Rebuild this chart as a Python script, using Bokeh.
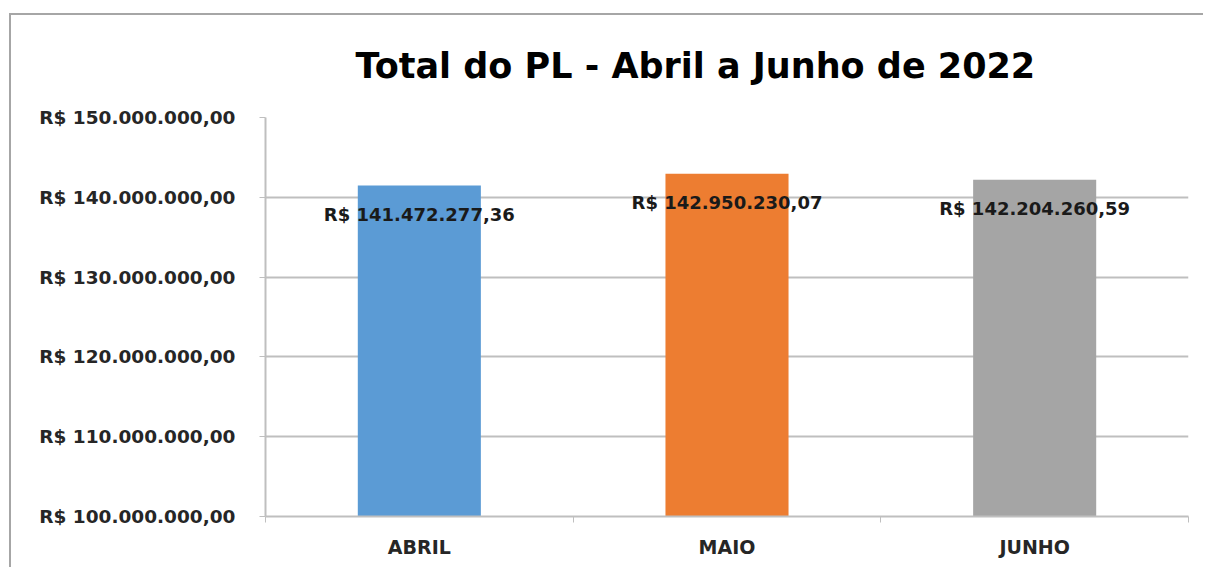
from bokeh.plotting import figure
from bokeh.models import ColumnDataSource, FixedTicker, Range1d
from bokeh.core.properties import value
from bokeh.embed import file_html
from bokeh.resources import INLINE

# Data
categories = ["ABRIL", "MAIO", "JUNHO"]
values = [141472277.36, 142950230.07, 142204260.59]
value_labels = ["R$ 141.472.277,36", "R$ 142.950.230,07", "R$ 142.204.260,59"]
colors = ["#5b9bd5", "#ed7d31", "#a5a5a5"]
y_ticks = [100000000, 110000000, 120000000, 130000000, 140000000, 150000000]
y_tick_labels = ["R$ 100.000.000,00", "R$ 110.000.000,00", "R$ 120.000.000,00",
                 "R$ 130.000.000,00", "R$ 140.000.000,00", "R$ 150.000.000,00"]
title_text = "Total do PL - Abril a Junho de 2022"

FONT = "DejaVu Sans"
x_pos = [i + 0.5 for i in range(len(categories))]

src = ColumnDataSource(dict(x=x_pos, top=values, color=colors, lab=value_labels))

p = figure(width=1194, height=554, output_backend="svg", toolbar_location=None,
           x_range=Range1d(0, 3), y_range=Range1d(100000000, 150000000),
           min_border_left=254, min_border_right=17, min_border_top=102, min_border_bottom=53)
p.styles = {"margin-left": "9px", "margin-top": "13px",
            "border-left": "2px solid #a6a6a6", "border-top": "2px solid #a6a6a6"}

p.title.text = title_text
p.title.align = "left"
p.title.offset = 90
p.title.vertical_align = "top"
p.title.text_font = FONT
p.title.text_font_size = "35px"
p.title.text_font_style = "bold"
p.title.text_color = "#000000"
p.title.standoff = 60

p.vbar(x="x", top="top", bottom=100000000, width=0.4, fill_color="color",
       line_color=None, source=src)
p.text(x="x", y="top", text="lab", source=src, text_align="center",
       text_baseline="middle", y_offset=29, text_font=value(FONT),
       text_font_size="18px", text_font_style="bold", text_color="#1a1a1a")

p.outline_line_color = None
p.xgrid.grid_line_color = None
p.ygrid.grid_line_color = "#bfbfbf"
p.ygrid.grid_line_width = 2
p.ygrid.ticker = FixedTicker(ticks=y_ticks)

p.yaxis.ticker = FixedTicker(ticks=y_ticks)
p.yaxis.major_label_overrides = {t: l for t, l in zip(y_ticks, y_tick_labels)}
p.yaxis.axis_line_color = "#bfbfbf"
p.yaxis.axis_line_width = 2
p.yaxis.major_tick_line_color = "#bfbfbf"
p.yaxis.major_tick_out = 6
p.yaxis.major_tick_in = 0
p.yaxis.minor_tick_line_color = None
p.yaxis.major_label_text_font = FONT
p.yaxis.major_label_text_font_size = "18.5px"
p.yaxis.major_label_text_font_style = "bold"
p.yaxis.major_label_text_color = "#262626"
p.yaxis.major_label_standoff = 24

p.xaxis.ticker = FixedTicker(ticks=x_pos, minor_ticks=[0, 1, 2, 3])
p.xaxis.major_label_overrides = {x: c for x, c in zip(x_pos, categories)}
p.xaxis.axis_line_color = "#bfbfbf"
p.xaxis.axis_line_width = 2
p.xaxis.major_tick_line_color = None
p.xaxis.minor_tick_line_color = "#bfbfbf"
p.xaxis.minor_tick_out = 6
p.xaxis.minor_tick_in = 0
p.xaxis.major_label_text_font = FONT
p.xaxis.major_label_text_font_size = "19px"
p.xaxis.major_label_text_font_style = "bold"
p.xaxis.major_label_text_color = "#262626"
p.xaxis.major_label_standoff = 13

open("out.html", "w").write(file_html(p, INLINE))
